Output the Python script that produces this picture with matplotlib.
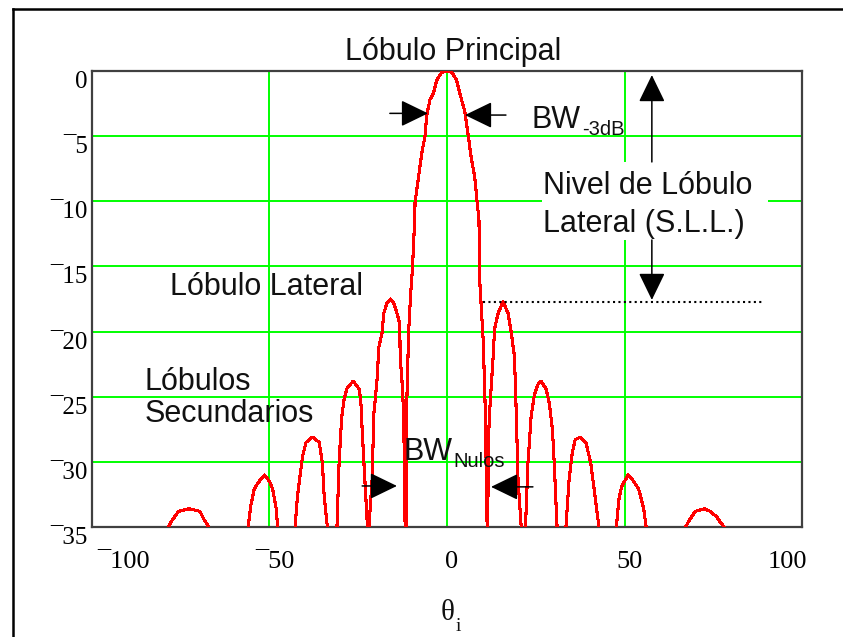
import matplotlib
matplotlib.use('Agg')
import matplotlib.pyplot as plt
import matplotlib.transforms as mtransforms
from matplotlib.lines import Line2D
from matplotlib.patches import Rectangle

# Radiation pattern (theta in degrees, level in dB).
# Points at -45 dB are nulls that fall below the -35 dB floor of the plot.
theta = [
    -99.0, -88.0,
    -78.4, -77.7, -75.6, -72.6, -69.6, -68.5, -67.1,
    -61.5,
    -56.0, -55.3, -54.3, -53.2, -51.4, -50.0, -49.1, -48.1, -47.7,
    -45.3,
    -42.8, -42.1, -40.7, -39.7, -37.9, -36.0, -35.1, -34.6, -33.7,
    -32.4,
    -31.0, -30.4, -29.7, -29.0, -28.1, -26.4, -24.8, -24.3, -23.9, -23.4, -22.4,
    -22.2,
    -22.0, -21.1, -20.6, -19.7, -19.2, -18.3, -17.8, -16.9, -15.9, -15.0, -14.1,
    -13.3, -13.2, -12.7, -12.2, -11.8,
    -11.65,
    -11.5, -11.4, -10.8, -10.3, -9.7, -9.1, -9.0, -8.0, -7.1, -6.2, -5.7, -4.8,
    -3.8, -2.9, -1.5, 0.0, 1.4, 2.7, 3.6, 5.0, 6.0, 6.9, 7.8, 8.5, 9.0, 9.2,
    10.2, 10.8, 11.3,
    11.4,
    11.5, 11.6, 12.0, 13.0, 13.4, 14.4, 15.8, 17.2, 18.1, 19.0, 19.5, 20.0, 20.9,
    21.5,
    22.1, 22.8, 23.7, 24.6, 25.5, 26.5, 27.9, 28.8, 29.7, 30.2, 31.0,
    32.2,
    33.5, 34.4, 35.3, 36.1, 37.5, 39.1, 40.5, 41.9, 42.8,
    45.2,
    47.7, 48.4, 49.2, 51.0, 52.6, 54.0, 55.4, 56.1,
    61.6,
    67.2, 68.0, 69.9, 72.6, 74.1, 75.9, 76.9, 78.1,
    88.0, 99.0,
]
level_db = [
    -45.0, -45.0,
    -35.0, -34.6, -33.8, -33.6, -33.8, -34.4, -35.0,
    -45.0,
    -35.0, -33.4, -32.1, -31.6, -31.0, -31.5, -32.1, -33.6, -35.0,
    -45.0,
    -35.0, -32.6, -29.6, -28.5, -28.1, -28.5, -30.1, -32.6, -35.0,
    -45.0,
    -35.0, -30.1, -26.7, -25.2, -24.3, -23.8, -24.4, -25.2, -27.5, -30.1, -35.0,
    -45.0,
    -35.0, -31.4, -26.3, -23.7, -21.2, -20.1, -18.6, -17.8, -17.5, -17.8, -18.6,
    -19.4, -21.9, -23.7, -26.3, -35.0,
    -45.0,
    -35.0, -26.2, -20.0, -17.4, -15.0, -11.4, -10.1, -8.1, -6.3, -5.0, -3.4, -2.2,
    -1.7, -0.7, -0.1, 0.0, -0.1, -0.7, -1.7, -3.1, -5.0, -6.8, -8.1, -10.1, -11.4, -16.0,
    -20.7, -26.2, -35.0,
    -45.0,
    -35.0, -28.8, -26.2, -21.9, -19.8, -18.6, -17.7, -18.6, -20.1, -21.9, -26.2, -31.3, -35.0,
    -45.0,
    -35.0, -30.1, -26.5, -24.9, -24.1, -23.8, -24.4, -25.5, -27.5, -30.1, -35.0,
    -45.0,
    -35.0, -31.3, -29.3, -28.3, -28.1, -28.5, -30.1, -33.1, -35.0,
    -45.0,
    -35.0, -32.9, -31.9, -31.0, -31.5, -32.1, -33.6, -35.0,
    -45.0,
    -35.0, -34.6, -33.8, -33.6, -33.8, -34.2, -34.6, -35.0,
    -45.0, -45.0,
]

x_ticks = [-100, -50, 0, 50, 100]
x_tick_labels = ['\u00af100', '\u00af50', '0', '50', '100']
y_ticks = [0, -5, -10, -15, -20, -25, -30, -35]
y_tick_labels = ['0', '\u00af5', '\u00af10', '\u00af15', '\u00af20', '\u00af25', '\u00af30', '\u00af35']

sll_line_db = -17.75
sll_line_x = [10.1, 88.7]

fig = plt.figure(figsize=(8.43, 6.37), dpi=100, facecolor='white')
ax = fig.add_axes([0.1091, 0.1727, 0.8423, 0.7158])
ax.set_facecolor('white')

ax.plot(theta, level_db, color='#ff0000', lw=1.5, antialiased=False, zorder=3)

ax.set_xlim(-100, 100)
ax.set_ylim(-35, 0)
ax.set_xticks(x_ticks, x_tick_labels)
ax.set_yticks(y_ticks, y_tick_labels)
ax.grid(True, color='#00ff00', lw=1.4)
ax.set_axisbelow(True)
for s in ax.spines.values():
    s.set_color('#404040')
    s.set_linewidth(1.6)

ax.tick_params(axis='both', length=0)
ax.tick_params(axis='x', pad=17, labelsize=19)
ax.tick_params(axis='y', pad=3, labelsize=18)
for lab in ax.get_xticklabels() + ax.get_yticklabels():
    lab.set_family('Liberation Serif')
shift = mtransforms.ScaledTranslation(5 / 100, 0, fig.dpi_scale_trans)
xl = ax.get_xticklabels()
for lab in xl:
    lab.set_transform(lab.get_transform() + shift)
xl[0].set_ha('left')
xl[-1].set_ha('right')
for lab in ax.get_yticklabels():
    lab.set_va('top')

# white patch behind the S.L.L. text
ax.add_patch(Rectangle((26.76, -12.97), 63.66, 5.99, fc='white', ec='none', zorder=1.5))

txt = dict(family='Liberation Sans', fontsize=22, color='#111111', zorder=4, clip_on=False)
sub = dict(family='Liberation Sans', fontsize=14.5, color='#111111', zorder=4, clip_on=False)
ax.text(1.7, 0.84, 'Lóbulo Principal', ha='center', va='baseline', **txt)
ax.text(-78.0, -17.19, 'Lóbulo Lateral', ha='left', va='baseline', **txt)
ax.text(-85.1, -24.48, 'Lóbulos', ha='left', va='baseline', **txt)
ax.text(-85.1, -26.92, 'Secundarios', ha='left', va='baseline', **txt)
ax.text(27.04, -9.46, 'Nivel de Lóbulo', ha='left', va='baseline', **txt)
ax.text(27.04, -12.33, 'Lateral (S.L.L.)', ha='left', va='baseline', **txt)
ax.text(23.94, -4.40, 'BW', ha='left', va='baseline', **txt)
ax.text(38.03, -4.91, '-3dB', ha='left', va='baseline', **sub)
ax.text(-12.39, -29.85, 'BW', ha='left', va='baseline', **txt)
ax.text(1.69, -30.37, 'Nulos', ha='left', va='baseline', **sub)

# x axis name: theta with subscript i
ax.text(2.0, -42.13, 'θ', ha='right', va='baseline', family='Liberation Serif',
        fontsize=21, color='#111111', clip_on=False)
ax.text(2.5, -42.98, 'i', ha='left', va='baseline', family='Liberation Serif',
        fontsize=14, color='#111111', clip_on=False)

arrow = dict(arrowstyle='-|>,head_length=0.68,head_width=0.33', mutation_scale=25,
             lw=1.1, color='black', shrinkA=0, shrinkB=0)
arrows = [
    ((-16.1, -3.25), (-5.35, -3.25)),
    ((16.6, -3.38), (5.07, -3.38)),
    ((57.7, -6.98), (57.7, -0.31)),
    ((57.7, -12.97), (57.7, -17.57)),
    ((-23.9, -31.85), (-14.1, -31.85)),
    ((24.2, -31.92), (12.4, -31.92)),
]
for tail, tip in arrows:
    ax.annotate('', xy=tip, xytext=tail, arrowprops=arrow, zorder=5)

ax.plot(sll_line_x, [sll_line_db, sll_line_db], color='black', lw=1.5,
        linestyle=(0, (1, 1.6)), zorder=4)

# outer frame (only left and top edges show)
fig.add_artist(Line2D([0.0152, 0.0152], [0.0, 0.9851], transform=fig.transFigure,
                      color='black', lw=1.8, solid_capstyle='projecting'))
fig.add_artist(Line2D([0.0152, 1.0], [0.9851, 0.9851], transform=fig.transFigure,
                      color='black', lw=1.8, solid_capstyle='projecting'))

fig.savefig('out.png', dpi=100, facecolor='white')
